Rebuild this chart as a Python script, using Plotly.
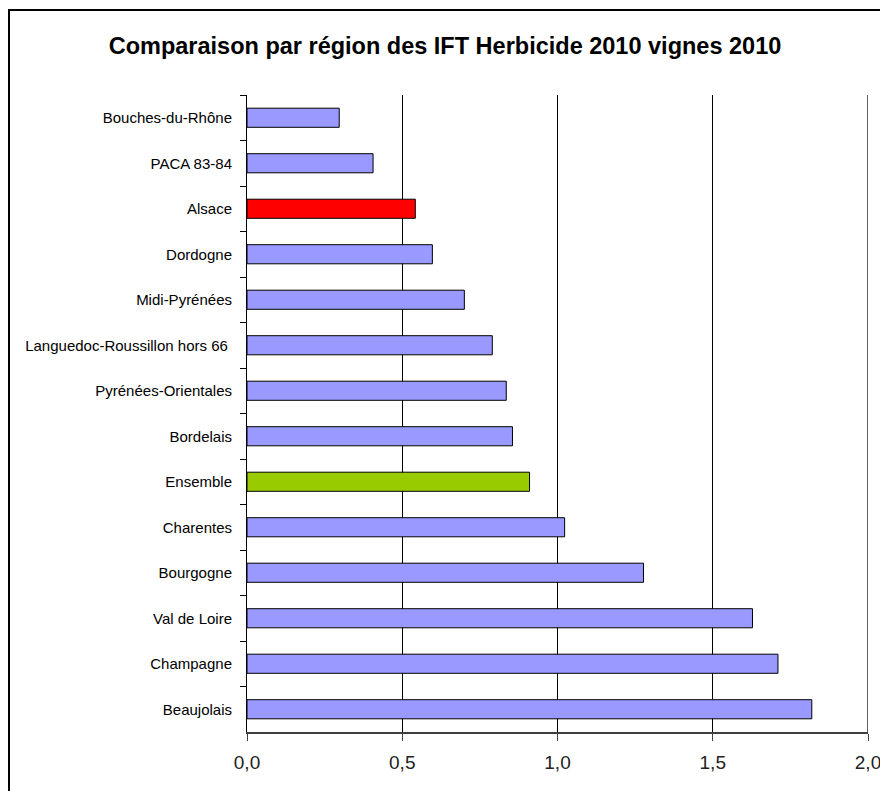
import plotly.graph_objects as go

regions = ["Bouches-du-Rhône", "PACA 83-84", "Alsace", "Dordogne", "Midi-Pyrénées",
           "Languedoc-Roussillon hors 66 ", "Pyrénées-Orientales", "Bordelais", "Ensemble",
           "Charentes", "Bourgogne", "Val de Loire", "Champagne", "Beaujolais"]
ift_values = [0.297, 0.406, 0.542, 0.597, 0.70, 0.79, 0.835, 0.855, 0.91,
              1.023, 1.277, 1.628, 1.710, 1.819]
bar_colors = ["#9999FF", "#9999FF", "#FF0000", "#9999FF", "#9999FF", "#9999FF", "#9999FF",
              "#9999FF", "#99CC00", "#9999FF", "#9999FF", "#9999FF", "#9999FF", "#9999FF"]
x_tickvals = [0, 0.5, 1.0, 1.5, 2.0]
x_ticktext = ["0,0", "0,5", "1,0", "1,5", "2,0"]

FONT = "Liberation Sans, Arial, sans-serif"

fig = go.Figure(go.Bar(
    y=regions, x=ift_values, orientation="h",
    marker=dict(color=bar_colors, line=dict(color="#000000", width=1)),
    width=0.42, hoverinfo="x+y",
))

# page has an 8px body margin: figure coordinates = page coordinates - 8
W, H = 880, 783
L, R, T, B = 239, 20, 87, 59
pw, ph = W - L - R, H - T - B

fig.update_layout(
    width=W, height=H,
    margin=dict(l=L, r=R, t=T, b=B, autoexpand=False),
    paper_bgcolor="white", plot_bgcolor="white",
    showlegend=False,
    title=dict(text="<b>Comparaison par région des IFT Herbicide 2010 vignes 2010</b>",
               x=437 / W, xanchor="center", y=1 - 38 / H, yanchor="middle",
               font=dict(family=FONT, size=23.5, color="black")),
    font=dict(family=FONT, color="black"),
    bargap=0.58,
)
fig.update_xaxes(
    range=[0, 2], tickvals=x_tickvals, ticktext=x_ticktext, automargin=False,
    showgrid=True, gridcolor="#000000", gridwidth=1,
    showline=True, linecolor="#404040", linewidth=2,
    ticks="outside", ticklen=7, tickcolor="#404040", tickwidth=1,
    tickfont=dict(size=19, color="#222"), zeroline=False, ticklabelstandoff=5,
)
fig.update_yaxes(
    categoryorder="array", categoryarray=regions, autorange="reversed", automargin=False,
    showline=True, linecolor="#000000", linewidth=1,
    ticks="outside", ticklen=6, tickcolor="#000000", tickson="boundaries",
    tickfont=dict(size=15, color="black"), ticklabelstandoff=11, showgrid=False,
)
# right border of plot area at 2.0
fig.add_shape(type="line", xref="x", yref="paper", x0=2, x1=2, y0=0, y1=1,
              line=dict(color="#606060", width=2))
# outer chart border
fig.add_shape(type="rect", xref="paper", yref="paper",
              x0=(1 - L) / pw, x1=(W + 20 - L) / pw,
              y0=-(B + 20) / ph, y1=(H - B - 2) / ph,
              line=dict(color="black", width=2), layer="below")

fig.write_html("out.html")
